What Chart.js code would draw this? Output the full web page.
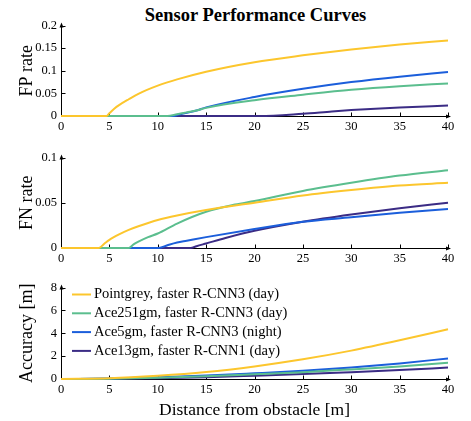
<!DOCTYPE html>
<html>
<head>
<meta charset="utf-8">
<script src="https://cdn.jsdelivr.net/npm/chart.js@4.4.1/dist/chart.umd.min.js"></script>
<style>
  body { margin: 0; background: #fff; }
  #wrap { position: relative; width: 471px; height: 421px; overflow: hidden; }
  canvas { position: absolute; left: 0; }
  #titulo {
    position: absolute; left: 40px; width: 431px; top: 4px;
    text-align: center; font: bold 18.5px "Liberation Serif", serif; line-height: 22px;
  }
</style>
</head>
<body>
<div id="wrap">
  <div id="titulo">Sensor Performance Curves</div>
  <canvas id="chartFP" width="471" height="124" style="top:14px"></canvas>
  <canvas id="chartFN" width="471" height="124" style="top:146px"></canvas>
  <canvas id="chartAcc" width="471" height="145" style="top:276px"></canvas>
</div>
<script>
const seriesNames = [
  'Pointgrey, faster R-CNN3 (day)',
  'Ace251gm, faster R-CNN3 (day)',
  'Ace5gm, faster R-CNN3 (night)',
  'Ace13gm, faster R-CNN1 (day)'
];
const seriesColors = ['#FCC62D', '#5BBE8E', '#1B5EDB', '#3B2C85'];

const xTicks = [0, 5, 10, 15, 20, 25, 30, 35, 40];
const fpTicks = [0, 0.05, 0.1, 0.15, 0.2];
const fnTicks = [0, 0.05, 0.1];
const accTicks = [0, 2, 4, 6, 8];

// FP rate [distance, value]
const fpPointgrey = [[0,0],[4.7,0],[5,0.006],[5.5,0.016],[6,0.024],[7,0.037],[8,0.049],[10,0.067],[12,0.081],[15,0.098],[20,0.119],[25,0.134],[30,0.147],[35,0.158],[40,0.167]];
const fpAce251 = [[0,0],[11,0],[12,0.004],[13,0.008],[14,0.012],[15,0.018],[20,0.035],[25,0.047],[30,0.058],[35,0.066],[40,0.072]];
const fpAce5 = [[0,0],[11.6,0],[12,0.002],[13,0.007],[14,0.012],[15,0.019],[20,0.042],[25,0.06],[30,0.075],[35,0.087],[40,0.097]];
const fpAce13 = [[0,0],[20.5,0],[25,0.005],[28,0.01],[30,0.013],[35,0.019],[40,0.023]];

// FN rate
const fnPointgrey = [[0,0],[3.9,0],[4.5,0.005],[5,0.009],[6,0.015],[7,0.02],[8,0.024],[10,0.031],[12,0.036],[15,0.042],[20,0.05],[25,0.058],[30,0.064],[35,0.069],[40,0.072]];
const fnAce251 = [[0,0],[7,0],[7.5,0.004],[8,0.007],[9,0.012],[10,0.016],[12,0.027],[15,0.04],[18,0.048],[20,0.052],[25,0.063],[30,0.072],[35,0.08],[40,0.086]];
const fnAce5 = [[0,0],[10.1,0],[11,0.003],[12,0.006],[13,0.008],[15,0.012],[20,0.021],[25,0.029],[30,0.034],[35,0.039],[40,0.043]];
const fnAce13 = [[0,0],[13.4,0],[14,0.002],[15,0.005],[17,0.011],[20,0.019],[25,0.029],[30,0.037],[35,0.044],[40,0.05]];

// Accuracy [m]
const accPointgrey = [[0,0],[5,0.06],[10,0.28],[15,0.61],[20,1.1],[25,1.72],[30,2.48],[35,3.38],[40,4.35]];
const accAce251 = [[0,0],[5,0.03],[10,0.12],[15,0.25],[20,0.42],[25,0.6],[30,0.84],[35,1.1],[40,1.42]];
const accAce5 = [[0,0],[5,0.04],[10,0.16],[15,0.3],[20,0.5],[25,0.72],[30,1.0],[35,1.36],[40,1.8]];
const accAce13 = [[0,0],[5,0.02],[10,0.07],[15,0.16],[20,0.29],[25,0.43],[30,0.6],[35,0.78],[40,1.0]];

const serif = '"Liberation Serif", "DejaVu Serif", serif';

// eixos com setas e marcas para dentro
const eixosPlugin = {
  id: 'eixos',
  beforeDatasetsDraw(chart) {
    const { ctx, chartArea: a, scales: { x, y } } = chart;
    const ax = Math.round(a.left) + 0.5;
    const ay = Math.round(a.bottom) + 0.5;
    ctx.save();
    ctx.strokeStyle = '#000';
    ctx.fillStyle = '#000';
    ctx.lineWidth = 1;
    ctx.beginPath();
    ctx.moveTo(ax, ay);
    ctx.lineTo(ax, a.top - 1);
    ctx.moveTo(ax, ay);
    ctx.lineTo(a.right + 1, ay);
    x.ticks.forEach(t => {
      const px = Math.round(x.getPixelForValue(t.value)) + 0.5;
      ctx.moveTo(px, ay);
      ctx.lineTo(px, ay - 4);
    });
    y.ticks.forEach(t => {
      const py = Math.round(y.getPixelForValue(t.value)) + 0.5;
      ctx.moveTo(ax, py);
      ctx.lineTo(ax + 4, py);
    });
    ctx.stroke();
    ctx.beginPath();
    ctx.moveTo(ax, a.top - 3);
    ctx.lineTo(ax - 2, a.top + 2);
    ctx.lineTo(ax + 2, a.top + 2);
    ctx.closePath();
    ctx.moveTo(a.right + 3, ay);
    ctx.lineTo(a.right - 2, ay - 2);
    ctx.lineTo(a.right - 2, ay + 2);
    ctx.closePath();
    ctx.fill();
    ctx.restore();
  }
};

// legenda dentro do gráfico de precisão
const legendaPlugin = {
  id: 'legenda',
  afterDatasetsDraw(chart) {
    if (!chart.options.plugins.legenda) return;
    const { ctx, chartArea: a } = chart;
    ctx.save();
    ctx.font = '14.5px ' + serif;
    ctx.textBaseline = 'middle';
    chart.data.datasets.forEach((ds, i) => {
      const ly = a.top + 7 + i * 18.8;
      ctx.strokeStyle = ds.borderColor;
      ctx.lineWidth = 2;
      ctx.beginPath();
      ctx.moveTo(a.left + 11, ly);
      ctx.lineTo(a.left + 30, ly);
      ctx.stroke();
      ctx.fillStyle = '#000';
      ctx.fillText(ds.label, a.left + 33, ly);
    });
    ctx.restore();
  }
};

function montarDatasets(listas) {
  return listas.map((pts, i) => ({
    label: seriesNames[i],
    data: pts.map(p => ({ x: p[0], y: p[1] })),
    borderColor: seriesColors[i],
    backgroundColor: seriesColors[i],
    borderWidth: 2,
    pointRadius: 0,
    cubicInterpolationMode: 'monotone',
    clip: false,
    fill: false
  }));
}

function criarGrafico(id, listas, yTicks, yTitulo, xTitulo, comLegenda) {
  const ctx = document.getElementById(id).getContext('2d');
  return new Chart(ctx, {
    type: 'line',
    data: { datasets: montarDatasets(listas) },
    options: {
      responsive: false,
      animation: false,
      events: [],
      layout: { padding: { top: 10, right: 23, left: 0, bottom: 0 } },
      scales: {
        x: {
          type: 'linear',
          min: 0,
          max: 40,
          border: { display: false },
          grid: { display: false, drawTicks: false },
          afterBuildTicks: s => { s.ticks = xTicks.map(v => ({ value: v })); },
          afterFit: s => { s.height = xTitulo ? 42 : 22; },
          ticks: {
            autoSkip: false, maxRotation: 0, padding: 3, color: '#000',
            font: { family: serif, size: 12.5 }
          },
          title: {
            display: !!xTitulo, text: xTitulo, color: '#000',
            padding: { top: 0, bottom: 0 },
            font: { family: serif, size: 17.5 }
          }
        },
        y: {
          min: 0,
          max: yTicks[yTicks.length - 1],
          border: { display: false },
          grid: { display: false, drawTicks: false },
          afterBuildTicks: s => { s.ticks = yTicks.map(v => ({ value: v })); },
          afterFit: s => { s.width = 61; },
          ticks: {
            autoSkip: false, padding: 4, color: '#000',
            font: { family: serif, size: 12.5 },
            callback: v => String(v)
          },
          title: {
            display: true, text: yTitulo, color: '#000',
            padding: { top: 16, bottom: 0 },
            font: { family: serif, size: 18 }
          }
        }
      },
      plugins: {
        legend: { display: false },
        tooltip: { enabled: false },
        legenda: comLegenda
      }
    },
    plugins: [eixosPlugin, legendaPlugin]
  });
}

criarGrafico('chartFP', [fpPointgrey, fpAce251, fpAce5, fpAce13], fpTicks, 'FP rate', '', false);
criarGrafico('chartFN', [fnPointgrey, fnAce251, fnAce5, fnAce13], fnTicks, 'FN rate', '', false);
criarGrafico('chartAcc', [accPointgrey, accAce251, accAce5, accAce13], accTicks, 'Accuracy [m]', 'Distance from obstacle [m]', true);
</script>
</body>
</html>
